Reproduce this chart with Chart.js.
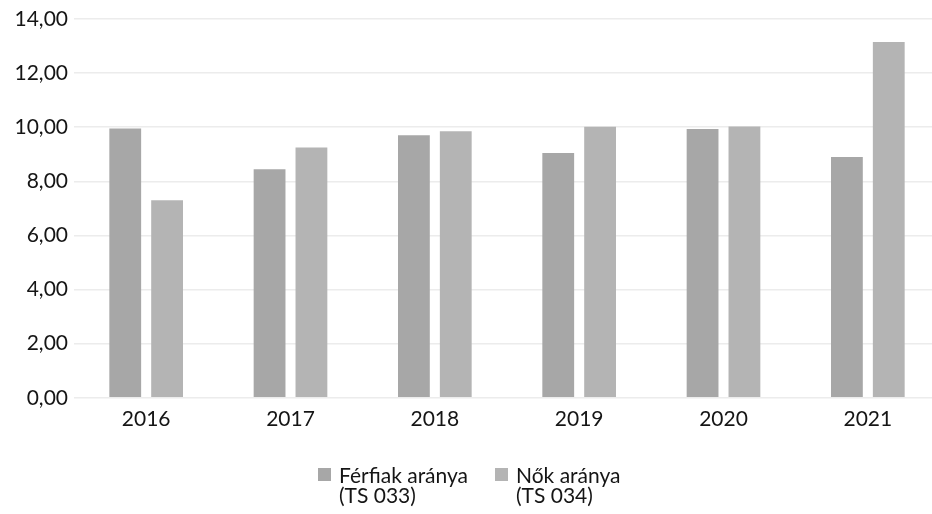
<!DOCTYPE html>
<html><head><meta charset="utf-8">
<script src="https://cdn.jsdelivr.net/npm/chart.js@4.4.1/dist/chart.umd.min.js"></script>
<style>
html,body{margin:0;padding:0;background:#fff;overflow:hidden;}
#wrap{position:relative;width:940px;height:514px;}
#legend{position:absolute;top:465px;left:0;width:932px;font-family:Lato,sans-serif;font-size:21px;line-height:20px;color:#151515;}
.box{position:absolute;top:3px;width:13px;height:13px;}
.txt{position:absolute;white-space:nowrap;}
</style></head><body>
<div id="wrap"><canvas id="c"></canvas></div>
<div id="legend"></div>
<script>
// Share of employees, by year (percent)
const years = ['2016', '2017', '2018', '2019', '2020', '2021'];
const ferfiak = [9.95, 8.45, 9.70, 9.05, 9.93, 8.90];
const nok = [7.30, 9.25, 9.85, 10.02, 10.03, 13.15];
const ferfiakLabel = ['Férfiak aránya', '(TS 033)'];
const nokLabel = ['Nők aránya', '(TS 034)'];
const colors = ['#a7a7a7', '#b4b4b4'];
const yMin = 0, yMax = 14, yStep = 2;

const fmt = v => v.toFixed(2).replace('.', ',');

const chart = new Chart(document.getElementById('c'), {
  type: 'bar',
  data: {
    labels: years,
    datasets: [
      { label: ferfiakLabel, data: ferfiak, backgroundColor: colors[0] },
      { label: nokLabel, data: nok, backgroundColor: colors[1] }
    ]
  },
  options: {
    responsive: true,
    maintainAspectRatio: false,
    animation: false,
    layout: { padding: { top: 19, left: 0, right: 0, bottom: 81 } },
    datasets: { bar: { categoryPercentage: 0.58, barPercentage: 0.76 } },
    scales: {
      x: {
        grid: { display: false },
        border: { display: false },
        ticks: { color: '#151515', font: { family: 'Lato', size: 21 }, padding: 1, maxRotation: 0 }
      },
      y: {
        min: yMin, max: yMax,
        afterFit: s => { s.width = 74; },
        grid: { color: '#ececec', lineWidth: 1.5, drawTicks: false },
        border: { display: false },
        ticks: { stepSize: yStep, color: '#151515', font: { family: 'Lato', size: 21 }, padding: 6, callback: v => fmt(v) }
      }
    },
    plugins: {
      tooltip: { enabled: false },
      legend: { display: false }
    }
  }
});

// Legend below the plot, two-line labels
const legendPos = [{ box: 318, text: 339 }, { box: 495, text: 516 }];
const legendEl = document.getElementById('legend');
chart.data.datasets.forEach((ds, i) => {
  const box = document.createElement('div');
  box.className = 'box';
  box.style.left = legendPos[i].box + 'px';
  box.style.background = ds.backgroundColor;
  const txt = document.createElement('div');
  txt.className = 'txt';
  txt.style.left = legendPos[i].text + 'px';
  txt.innerHTML = ds.label.join('<br>');
  legendEl.appendChild(box);
  legendEl.appendChild(txt);
});
</script>
</body></html>
